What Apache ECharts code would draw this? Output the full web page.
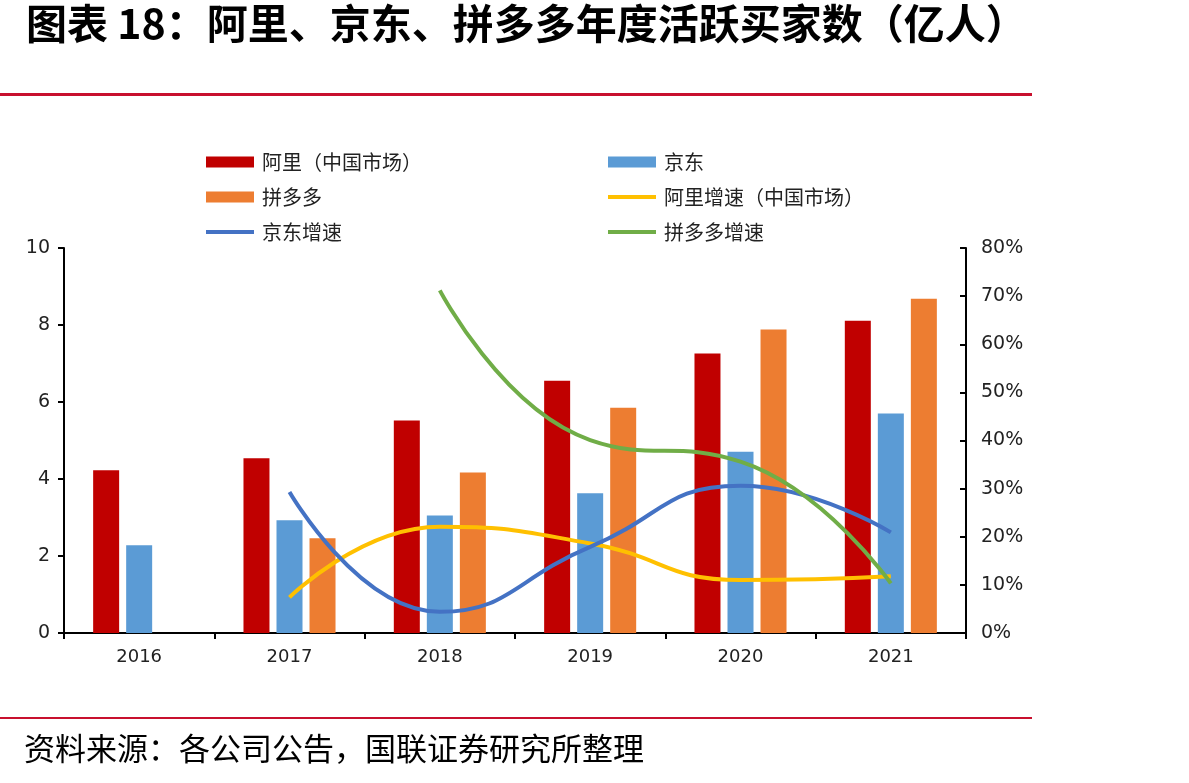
<!DOCTYPE html>
<html>
<head>
<meta charset="utf-8">
<script src="https://cdn.jsdelivr.net/npm/echarts@6/dist/echarts.min.js"></script>
<style>
  html, body { margin: 0; padding: 0; background: #fff; }
  #main { width: 1189px; height: 783px; }
</style>
</head>
<body>
<div id="main"></div>
<script>
// 年度活跃买家数（亿人）
const years = ['2016', '2017', '2018', '2019', '2020', '2021'];
const aliBuyers = [4.23, 4.54, 5.52, 6.55, 7.26, 8.11];
const jdBuyers = [2.28, 2.93, 3.05, 3.63, 4.71, 5.70];
const pddBuyers = [null, 2.46, 4.17, 5.85, 7.88, 8.68];
// 增速 (%)
const aliGrowth = [null, 7.4, 22.1, 18.6, 11.0, 11.8];
const jdGrowth = [null, 29.3, 4.4, 17.9, 30.6, 20.9];
const pddGrowth = [null, null, 71.2, 40.1, 35.6, 10.3];

const cjk = '"Noto Sans CJK SC", sans-serif';
const num = '"DejaVu Sans", sans-serif';

let chart = echarts.init(document.getElementById('main'));

const legendText = { fontFamily: cjk, fontSize: 20, color: '#222', lineHeight: 20, padding: [0, 0, 0, 3] };
// 折线图例只显示线条，不显示圆点
const lineIcon = { itemStyle: { opacity: 0 }, lineStyle: { width: 4 } };

let option = {
    animation: false,
    backgroundColor: '#fff',
    graphic: [
        {
            type: 'text', left: 26, top: 3,
            style: { text: '图表 18：阿里、京东、拼多多年度活跃买家数（亿人）', font: 'bold 41px "Noto Sans CJK SC"', fill: '#000' }
        },
        { type: 'rect', shape: { x: 0, y: 93, width: 1032, height: 3 }, style: { fill: '#C8102E' } },
        { type: 'rect', shape: { x: 0, y: 717, width: 1032, height: 2 }, style: { fill: '#C8102E' } },
        {
            type: 'text', left: 24, top: 733,
            style: { text: '资料来源：各公司公告，国联证券研究所整理', font: '31px "Noto Sans CJK SC"', fill: '#000' }
        }
    ],
    legend: [
        {
            left: 204, top: 152, padding: 0, orient: 'vertical', itemGap: 15,
            itemWidth: 48, itemHeight: 11,
            textStyle: legendText,
            data: [
                { name: '阿里（中国市场）', icon: 'rect' },
                { name: '拼多多', icon: 'rect' },
                Object.assign({ name: '京东增速' }, lineIcon)
            ]
        },
        {
            left: 606, top: 152, padding: 0, orient: 'vertical', itemGap: 15,
            itemWidth: 48, itemHeight: 11,
            textStyle: legendText,
            data: [
                { name: '京东', icon: 'rect' },
                Object.assign({ name: '阿里增速（中国市场）' }, lineIcon),
                Object.assign({ name: '拼多多增速' }, lineIcon)
            ]
        }
    ],
    grid: { left: 64, right: 223, top: 248, bottom: 150 },
    xAxis: {
        type: 'category',
        data: years,
        axisLine: { lineStyle: { color: '#000', width: 2 } },
        axisTick: { show: true, length: 6, lineStyle: { color: '#000', width: 2 } },
        axisLabel: { fontFamily: num, fontSize: 18, color: '#222', margin: 15 }
    },
    yAxis: [
        {
            type: 'value', min: 0, max: 10, interval: 2,
            splitLine: { show: false },
            axisLine: { show: true, lineStyle: { color: '#000', width: 2 } },
            axisTick: { show: true, length: 6, lineStyle: { color: '#000', width: 2 } },
            axisLabel: { fontFamily: num, fontSize: 19, color: '#222', margin: 14 }
        },
        {
            type: 'value', min: 0, max: 80, interval: 10, position: 'right',
            splitLine: { show: false },
            axisLine: { show: true, lineStyle: { color: '#000', width: 2 } },
            axisTick: { show: true, inside: true, length: 6, lineStyle: { color: '#000', width: 2 } },
            axisLabel: { fontFamily: num, fontSize: 19, color: '#222', margin: 15, formatter: '{value}%' }
        }
    ],
    series: [
        {
            name: '阿里（中国市场）', type: 'bar', data: aliBuyers,
            barWidth: 26, barGap: '27%',
            itemStyle: { color: '#C00000' }
        },
        {
            name: '京东', type: 'bar', data: jdBuyers,
            barWidth: 26, barGap: '27%',
            itemStyle: { color: '#5B9BD5' }
        },
        {
            name: '拼多多', type: 'bar', data: pddBuyers,
            barWidth: 26, barGap: '27%',
            itemStyle: { color: '#ED7D31' }
        },
        {
            name: '阿里增速（中国市场）', type: 'line', yAxisIndex: 1, data: aliGrowth,
            smooth: 0.5, symbol: 'none',
            lineStyle: { color: '#FFC000', width: 4 }, itemStyle: { color: '#FFC000' }
        },
        {
            name: '京东增速', type: 'line', yAxisIndex: 1, data: jdGrowth,
            smooth: 0.5, symbol: 'none',
            lineStyle: { color: '#4472C4', width: 4 }, itemStyle: { color: '#4472C4' }
        },
        {
            name: '拼多多增速', type: 'line', yAxisIndex: 1, data: pddGrowth,
            smooth: 0.5, symbol: 'none',
            lineStyle: { color: '#70AD47', width: 4 }, itemStyle: { color: '#70AD47' }
        }
    ]
};

chart.setOption(option);
</script>
</body>
</html>
